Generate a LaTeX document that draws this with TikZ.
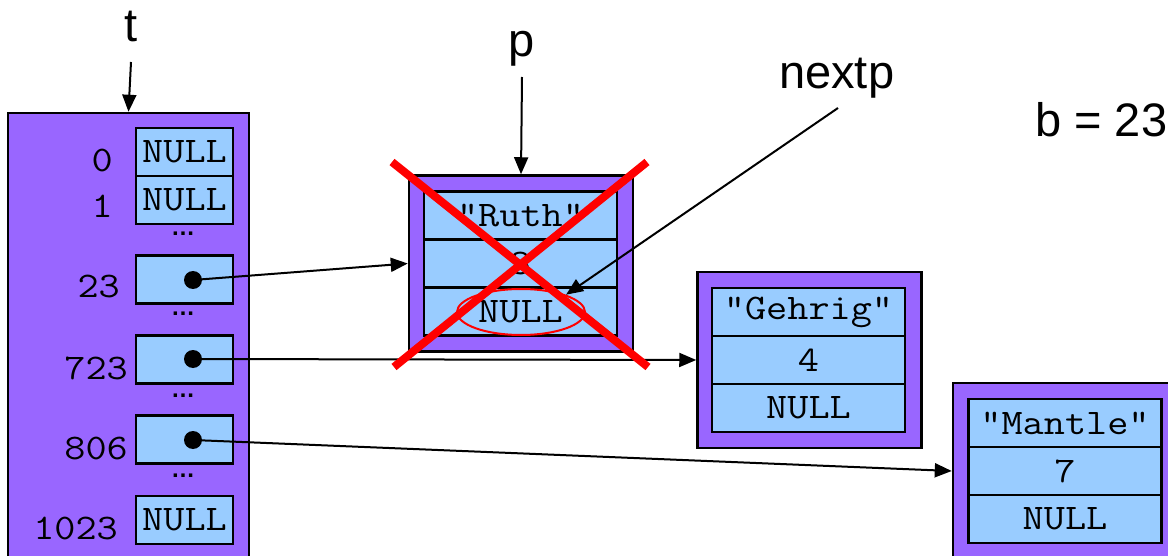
\documentclass[tikz,border=0pt]{standalone}
\usepackage{fontspec}
\setmainfont{Liberation Sans}
\setmonofont{Latin Modern Mono}[FakeStretch=1.14]
\usepackage{xcolor}
\usetikzlibrary{arrows.meta,shapes}

\definecolor{boxpurple}{RGB}{153,102,255}
\definecolor{cellblue}{RGB}{153,204,255}

\tikzset{
ptr/.style={line width=2pt,-{Triangle[length=17pt,width=14pt]}},
cell/.style={draw,line width=2.5pt,fill=cellblue,minimum width=97pt,minimum height=48pt,inner sep=0pt,font=\fontsize{36}{36}\ttfamily},
row/.style={cell,minimum width=193pt},
outerbox/.style={draw,line width=2.5pt,fill=boxpurple,minimum width=224pt,minimum height=176pt,inner sep=0pt},
idx/.style={anchor=base east,inner sep=0pt,font=\fontsize{36}{36}\ttfamily},
lbl/.style={anchor=base,inner sep=0pt,font=\fontsize{47}{47}\selectfont},
gap/.style={anchor=base,inner sep=0pt,text height=3pt,text depth=0pt,font=\fontsize{24}{24}\bfseries},
dot/.style={circle,fill,inner sep=0pt,minimum size=18pt},
cross/.style={red,line width=8pt}
}

\begin{document}
\begin{tikzpicture}[x=1pt,y=-1pt]
\useasboundingbox (0,0) rectangle (1168,556);
\clip (0,0) rectangle (1168,556);
% hash table t
\node[outerbox,minimum width=241pt,minimum height=460pt](tbl) at (128.5,343){};
\node[cell](c0) at (184.5,152){NULL};
\node[cell](c1) at (184.5,200){NULL};
\node[cell](c23) at (184.5,279.5){};
\node[cell](c723) at (184.5,359.5){};
\node[cell](c806) at (184.5,439.5){};
\node[cell](c1023) at (184.5,520){NULL};
\node[idx](i0) at (113,172){0};
\node[idx](i1) at (113,218){1};
\node[idx](i23) at (120,298){23};
\node[idx](i723) at (128,379){723};
\node[idx](i806) at (128,459){806};
\node[idx](i1023) at (118,539){1023};
\node[gap](g1) at (183,236){…};
\node[gap](g2) at (183,316){…};
\node[gap](g3) at (183,397){…};
\node[gap](g4) at (183,477){…};
\node[dot](d23) at (193,280){};
\node[dot](d723) at (193,359){};
\node[dot](d806) at (193,440){};
% list nodes
\node[outerbox](ruth) at (521,263.5){};
\node[row](ruth-name) at (520.5,215.5){"Ruth"};
\node[row](ruth-num) at (520.5,263.5){3};
\node[row](ruth-next) at (520.5,311.5){NULL};
\node[outerbox](gehrig) at (809.5,360){};
\node[row](gehrig-name) at (808.5,312){"Gehrig"};
\node[row](gehrig-num) at (808.5,360){4};
\node[row](gehrig-next) at (808.5,408){NULL};
\node[outerbox](mantle) at (1065,471){};
\node[row](mantle-name) at (1065,423){"Mantle"};
\node[row](mantle-num) at (1065,471){7};
\node[row](mantle-next) at (1065,519){NULL};
\node[ellipse,draw=red,line width=2pt,minimum width=128pt,minimum height=46pt,inner sep=0pt](nullmark) at (521,312){};
% names
\node[lbl](t) at (131,42){t};
\node[lbl](p) at (522,57){p};
\node[lbl,anchor=base west](nextp) at (779,89){nextp};
\node[lbl,anchor=base west](b) at (1035,137){b = 23};
\coordinate (t-tail) at (131,62);
\coordinate (p-tail) at (522,77);
\coordinate (nextp-tail) at (838,108);
% pointers
\draw[ptr](t-tail)--(tbl.north);
\draw[ptr](p-tail)--(ruth.north);
\draw[ptr](nextp-tail)--(nullmark.21);
\draw[ptr](d23.center)--(ruth.west);
\draw[ptr](d723.center)--(gehrig.west);
\draw[ptr](d806.center)--(mantle.west);
% deleted node
\draw[cross](392,162)--(648,367);
\draw[cross](647,162)--(394,367);
\end{tikzpicture}
\end{document}
